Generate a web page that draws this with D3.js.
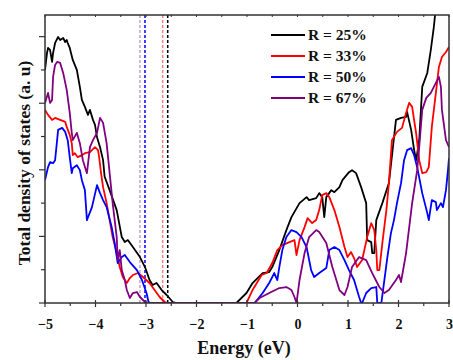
<!DOCTYPE html>
<html><head><meta charset="utf-8">
<script src="https://cdn.jsdelivr.net/npm/d3@7/dist/d3.min.js"></script>
<style>body{margin:0;background:#fff;} svg{display:block;}</style>
</head><body>
<svg id="c" width="453" height="360"></svg>
<script>
const seriesNames = ["R = 25%", "R = 33%", "R = 50%", "R = 67%"];
const seriesColors = ["#000000", "#ff0000", "#0000ff", "#800080"];
const fermiLevels = [-2.57, -2.67, -3.02, -3.12];
const fermiColors = ["#000000", "#ff8080", "#0000ff", "#c8a0c8"];
const xTicks = [-5, -4, -3, -2, -1, 0, 1, 2, 3];

const dosR25 = [[-5.00,7.00],[-4.96,7.51],[-4.94,7.66],[-4.90,7.60],[-4.86,7.24],[-4.84,7.51],[-4.80,7.81],[-4.74,7.99],[-4.70,7.90],[-4.64,7.96],[-4.60,7.84],[-4.57,7.90],[-4.55,7.81],[-4.51,7.66],[-4.45,7.30],[-4.37,7.00],[-4.31,6.49],[-4.27,6.10],[-4.21,5.89],[-4.15,5.65],[-4.11,5.80],[-4.05,5.50],[-4.01,5.35],[-3.97,4.98],[-3.91,4.68],[-3.85,4.29],[-3.82,3.80],[-3.72,3.39],[-3.58,2.79],[-3.48,1.98],[-3.42,1.83],[-3.36,1.89],[-3.26,1.68],[-3.12,1.38],[-3.02,1.08],[-2.93,0.69],[-2.87,0.54],[-2.79,0.60],[-2.69,0.39],[-2.59,0.24],[-2.47,0.03],[-2.39,0],[-1.21,0],[-1.01,0.30],[-0.89,0.60],[-0.69,0.90],[-0.56,0.93],[-0.50,1.08],[-0.36,1.59],[-0.22,2.19],[-0.12,2.58],[0.04,3.00],[0.18,3.18],[0.23,3.09],[0.37,3.15],[0.43,3.30],[0.49,3.18],[0.53,2.58],[0.57,3.18],[0.67,3.39],[0.73,3.33],[0.83,3.48],[0.89,3.69],[1.02,3.93],[1.08,3.99],[1.16,3.90],[1.26,3.48],[1.36,3.00],[1.38,1.89],[1.46,1.83],[1.48,1.50],[1.52,1.50],[1.56,2.49],[1.68,3.00],[1.81,3.60],[1.95,5.50],[2.05,5.56],[2.15,5.59],[2.17,5.74],[2.25,5.20],[2.31,4.59],[2.35,4.29],[2.41,4.89],[2.47,6.49],[2.57,6.91],[2.64,7.60],[2.70,8.29],[2.76,9.20],[2.85,9.60],[3.00,9.80]];

const dosR33 = [[-5.00,5.80],[-4.94,5.65],[-4.86,5.50],[-4.80,5.56],[-4.70,5.50],[-4.60,5.44],[-4.57,5.29],[-4.51,5.05],[-4.47,4.80],[-4.45,4.44],[-4.41,4.50],[-4.35,4.38],[-4.27,4.44],[-4.21,4.50],[-4.11,4.53],[-4.01,4.68],[-3.95,4.59],[-3.93,4.40],[-3.89,3.90],[-3.85,3.48],[-3.78,3.00],[-3.72,2.49],[-3.66,1.98],[-3.58,1.50],[-3.52,1.08],[-3.46,0.78],[-3.38,0.60],[-3.32,0.75],[-3.26,0.84],[-3.16,0.90],[-3.06,0.78],[-2.93,0.60],[-2.83,0.39],[-2.73,0.18],[-2.63,0.03],[-2.57,0],[-1.01,0],[-0.89,0.39],[-0.71,0.84],[-0.61,0.90],[-0.50,1.20],[-0.40,1.59],[-0.30,1.74],[-0.16,1.83],[-0.06,1.89],[-0.02,1.44],[0.04,1.89],[0.14,2.28],[0.20,2.55],[0.29,2.40],[0.37,2.49],[0.43,2.79],[0.49,3.24],[0.57,3.30],[0.63,3.18],[0.73,2.79],[0.83,2.28],[0.93,1.68],[0.99,1.38],[1.06,1.53],[1.12,1.35],[1.18,1.08],[1.28,1.29],[1.38,1.98],[1.46,2.40],[1.52,2.19],[1.56,1.59],[1.58,0.99],[1.62,0.99],[1.68,1.80],[1.76,2.79],[1.81,3.60],[1.87,4.89],[1.97,5.14],[2.07,5.26],[2.15,5.71],[2.21,6.01],[2.27,5.89],[2.35,5.09],[2.41,4.29],[2.47,3.90],[2.55,3.93],[2.60,4.08],[2.66,5.29],[2.74,6.31],[2.80,7.09],[2.86,7.39],[2.94,7.54],[3.00,7.69]];

const dosR50 = [[-5.00,3.69],[-4.94,4.08],[-4.90,4.23],[-4.84,4.20],[-4.80,4.29],[-4.76,4.89],[-4.74,5.20],[-4.66,5.26],[-4.60,5.14],[-4.55,4.89],[-4.51,4.38],[-4.47,3.90],[-4.45,4.05],[-4.37,4.14],[-4.31,3.99],[-4.27,3.69],[-4.21,3.39],[-4.17,2.49],[-4.07,2.88],[-3.97,3.54],[-3.91,3.30],[-3.85,3.09],[-3.78,2.88],[-3.68,2.28],[-3.62,1.80],[-3.56,1.20],[-3.48,1.38],[-3.42,1.44],[-3.32,1.23],[-3.18,0.99],[-3.08,0.69],[-2.99,0.30],[-2.95,0.03],[-2.91,0],[-0.85,0],[-0.69,0.30],[-0.56,0.60],[-0.46,0.90],[-0.40,0.69],[-0.36,1.08],[-0.30,1.59],[-0.22,1.98],[-0.12,2.19],[-0.02,2.13],[0.08,1.98],[0.18,1.68],[0.27,0.99],[0.33,0.78],[0.43,0.90],[0.57,1.05],[0.63,1.59],[0.73,1.68],[0.83,1.59],[0.93,1.29],[1.02,0.99],[1.12,0.69],[1.22,0.18],[1.26,0],[1.28,0],[1.36,0.30],[1.46,0.45],[1.56,0.48],[1.58,0],[1.66,0],[1.72,0.69],[1.78,1.38],[1.85,2.10],[1.91,2.49],[1.97,3.00],[2.05,3.60],[2.11,4.29],[2.17,4.59],[2.25,4.65],[2.31,4.44],[2.37,4.08],[2.47,3.30],[2.57,2.70],[2.60,2.49],[2.66,3.09],[2.74,3.03],[2.76,2.79],[2.84,3.00],[2.88,2.88],[2.94,3.39],[2.98,3.99],[3.00,4.35]];

const dosR67 = [[-5.00,6.01],[-4.94,6.31],[-4.90,6.01],[-4.86,6.10],[-4.84,6.79],[-4.80,7.15],[-4.76,7.24],[-4.70,7.21],[-4.64,6.91],[-4.57,6.40],[-4.51,5.71],[-4.47,5.11],[-4.45,4.89],[-4.37,5.11],[-4.31,4.80],[-4.25,4.29],[-4.17,3.90],[-4.11,4.68],[-4.05,4.89],[-3.97,5.11],[-3.91,5.56],[-3.85,5.41],[-3.78,4.80],[-3.72,3.90],[-3.66,3.00],[-3.58,1.98],[-3.56,1.29],[-3.52,1.59],[-3.48,0.99],[-3.42,0.69],[-3.38,0.39],[-3.32,0.15],[-3.26,0.30],[-3.18,0.33],[-3.12,0.18],[-3.02,0.03],[-2.97,0],[-0.85,0],[-0.75,0.15],[-0.56,0.30],[-0.36,0.45],[-0.22,0.48],[-0.12,0.39],[-0.06,0.18],[-0.02,0],[0.04,0.69],[0.14,1.50],[0.23,1.98],[0.37,2.19],[0.43,2.13],[0.57,1.80],[0.69,1.08],[0.83,0.39],[0.93,0.24],[0.99,0.48],[1.08,1.08],[1.22,1.38],[1.36,1.29],[1.48,0.90],[1.62,0.48],[1.72,0.30],[1.81,0.39],[1.95,0.69],[2.01,0.84],[2.05,0.63],[2.15,1.50],[2.27,3.00],[2.37,3.99],[2.41,4.68],[2.47,5.80],[2.55,6.16],[2.64,6.31],[2.74,6.61],[2.80,6.79],[2.84,6.49],[2.86,5.80],[2.94,4.89],[3.00,4.68]];

const allSeries = [dosR25, dosR33, dosR50, dosR67];

const svg = d3.select("#c");
const L = 45, R = 449, T = 15, B = 303;
const x = d3.scaleLinear().domain([-5, 3]).range([L, R]);
const y = d3.scaleLinear().domain([0, 8.65]).range([B, T]);
const serif = "'Liberation Serif','Times New Roman',serif";

svg.append("defs").append("clipPath").attr("id", "clip")
  .append("rect").attr("x", L).attr("y", T).attr("width", R - L).attr("height", B - T);

// Fermi level dashed lines
fermiLevels.forEach((f, i) => {
  svg.append("line").attr("x1", x(f)).attr("x2", x(f)).attr("y1", T).attr("y2", B)
    .attr("stroke", fermiColors[i]).attr("stroke-width", 1.5).attr("stroke-dasharray", "3,2");
});

const line = d3.line().x(d => x(d[0])).y(d => y(d[1]));
const g = svg.append("g").attr("clip-path", "url(#clip)");
allSeries.forEach((s, i) => {
  g.append("path").datum(s).attr("d", line).attr("fill", "none")
    .attr("stroke", seriesColors[i]).attr("stroke-width", 1.8).attr("stroke-linejoin", "round");
});

// frame
svg.append("rect").attr("x", L).attr("y", T).attr("width", R - L).attr("height", B - T)
  .attr("fill", "none").attr("stroke", "#333").attr("stroke-width", 1.5);

// bottom axis
const xAxis = d3.axisBottom(x).tickValues(xTicks).tickSize(0).tickFormat(d3.format("d"));
const xa = svg.append("g").attr("transform", `translate(0,${B})`).call(xAxis);
xa.select(".domain").remove();
xa.selectAll("text").attr("dy", 0).attr("y", 26).attr("font-family", serif)
  .attr("font-weight", "bold").attr("font-size", 14).attr("fill", "#111");
d3.range(-5, 3.01, 0.5).forEach(v => {
  const major = Number.isInteger(v);
  svg.append("line").attr("x1", x(v)).attr("x2", x(v))
    .attr("y1", major ? B - 3 : B).attr("y2", B + (major ? 4 : 3))
    .attr("stroke", "#333").attr("stroke-width", 1.2);
  svg.append("line").attr("x1", x(v)).attr("x2", x(v)).attr("y1", T).attr("y2", T + 2)
    .attr("stroke", "#333").attr("stroke-width", 1);
});
// left axis ticks
d3.range(0, 9, 1).forEach(v => {
  const major = v % 2 === 0;
  svg.append("line").attr("x1", L - (major ? 6 : 4)).attr("x2", L)
    .attr("y1", y(v)).attr("y2", y(v)).attr("stroke", "#333").attr("stroke-width", 1.2);
});

// labels
svg.append("text").attr("x", 244).attr("y", 354).attr("text-anchor", "middle")
  .attr("font-family", serif).attr("font-weight", "bold").attr("font-size", 18).attr("fill", "#111")
  .text("Energy (eV)");
svg.append("text").attr("transform", "translate(30,163) rotate(-90)").attr("text-anchor", "middle")
  .attr("font-family", serif).attr("font-weight", "bold").attr("font-size", 17.5).attr("fill", "#111")
  .text("Total density of states (a. u)");

// legend
seriesNames.forEach((n, i) => {
  const ly = 35 + i * 21;
  svg.append("line").attr("x1", 271).attr("x2", 305).attr("y1", ly).attr("y2", ly)
    .attr("stroke", seriesColors[i]).attr("stroke-width", 2);
  svg.append("text").attr("x", 308).attr("y", ly + 5).attr("font-family", serif)
    .attr("font-weight", "bold").attr("font-size", 15.5).attr("fill", "#111").text(n);
});
</script>
</body></html>
